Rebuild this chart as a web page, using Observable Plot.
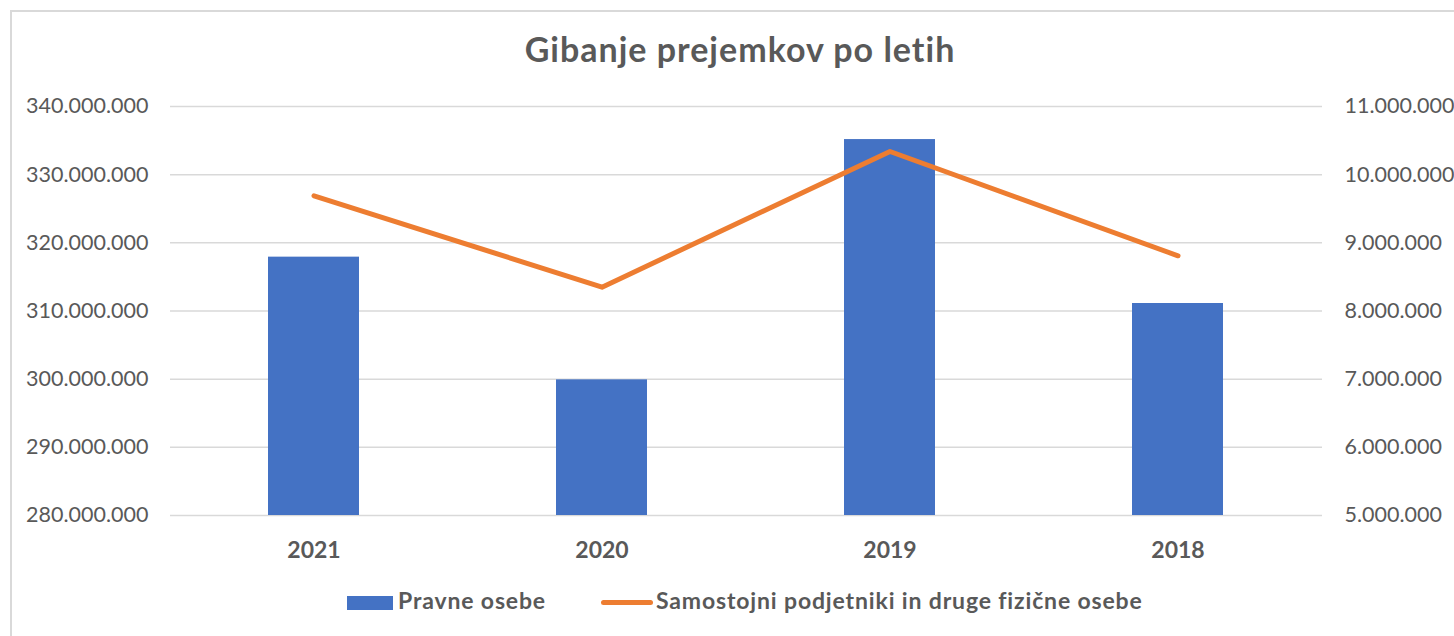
<!DOCTYPE html>
<html>
<head>
<meta charset="utf-8">
<script src="https://cdn.jsdelivr.net/npm/d3@7"></script>
<script src="https://cdn.jsdelivr.net/npm/@observablehq/plot@0.6"></script>
<style>
  html, body { margin: 0; padding: 0; background: #fff; width: 1454px; height: 636px; overflow: hidden; font-family: Lato, "Open Sans", sans-serif; }
  #frame { position: absolute; left: 10px; top: 10px; width: 1500px; height: 700px; border: 2px solid #d9d9d9; box-sizing: border-box; }
  #title { position: absolute; left: 0; width: 1480px; top: 32px; line-height: 34px; text-align: center; font-size: 34px; font-weight: bold; letter-spacing: 1px; color: #595959; white-space: nowrap; }
  #chart { position: absolute; left: 0; top: 80px; }
  .lg { position: absolute; }
  .lg-text { top: 589px; font-size: 23px; line-height: 23px; font-weight: bold; color: #595959; letter-spacing: 0.85px; white-space: nowrap; }
  #sw-bar { left: 347px; top: 596px; width: 46px; height: 14px; background: #4472c4; }
  #sw-line { left: 601px; top: 600px; width: 52px; height: 5px; border-radius: 3px; background: #ed7d31; }
</style>
</head>
<body>
<div id="frame"></div>
<div id="title">Gibanje prejemkov po letih</div>
<div id="chart"></div>
<div class="lg" id="sw-bar"></div>
<div class="lg lg-text" style="left:398px">Pravne osebe</div>
<div class="lg" id="sw-line"></div>
<div class="lg lg-text" style="left:656px">Samostojni podjetniki in druge fizične osebe</div>
<script>
const years = ["2021", "2020", "2019", "2018"];
const pravneOsebe = [317900000, 299900000, 335150000, 311100000];
const fizicneOsebe = [9690000, 8350000, 10340000, 8810000];
const leftTicks = [280000000, 290000000, 300000000, 310000000, 320000000, 330000000, 340000000];
const rightTicks = [5000000, 6000000, 7000000, 8000000, 9000000, 10000000, 11000000];

const leftDomain = [280000000, 340000000];
const rightDomain = [5000000, 11000000];
const toLeft = v => leftDomain[0] + (v - rightDomain[0]) * (leftDomain[1] - leftDomain[0]) / (rightDomain[1] - rightDomain[0]);
const fromLeft = v => rightDomain[0] + (v - leftDomain[0]) * (rightDomain[1] - rightDomain[0]) / (leftDomain[1] - leftDomain[0]);
const fmt = v => Math.round(v).toString().replace(/\B(?=(\d{3})+(?!\d))/g, ".");

const data = years.map((y, i) => ({year: y, pravne: pravneOsebe[i], fiz: fizicneOsebe[i]}));

const chart = Plot.plot({
  width: 1454,
  height: 500,
  marginLeft: 170,
  marginRight: 132,
  marginTop: 26,
  marginBottom: 65,
  style: {fontFamily: "Lato, 'Open Sans', sans-serif", color: "#595959", background: "transparent"},
  x: {domain: years, paddingInner: 0.684, paddingOuter: 0.342, label: null},
  y: {domain: leftDomain, label: null},
  marks: [
    Plot.gridY(leftTicks, {stroke: "#d9d9d9", strokeOpacity: 1, strokeWidth: 1.5}),
    Plot.barY(data, {x: "year", y1: () => leftDomain[0], y2: "pravne", fill: "#4472c4"}),
    Plot.line(data, {x: "year", y: d => toLeft(d.fiz), stroke: "#ed7d31", strokeWidth: 5, strokeLinecap: "round", strokeLinejoin: "round"}),
    Plot.axisY(leftTicks, {anchor: "left", tickSize: 0, tickPadding: 22, tickFormat: fmt, fontSize: 21.5, label: null, fill: "#595959"}),
    Plot.axisY(rightTicks.map(toLeft), {anchor: "right", tickSize: 0, tickPadding: 22, tickFormat: v => fmt(fromLeft(v)), fontSize: 21.5, label: null, fill: "#595959"}),
    Plot.axisX({tickSize: 0, tickPadding: 26, fontSize: 23, fontWeight: "bold", label: null, fill: "#595959"})
  ]
});
document.getElementById("chart").appendChild(chart);
</script>
</body>
</html>
